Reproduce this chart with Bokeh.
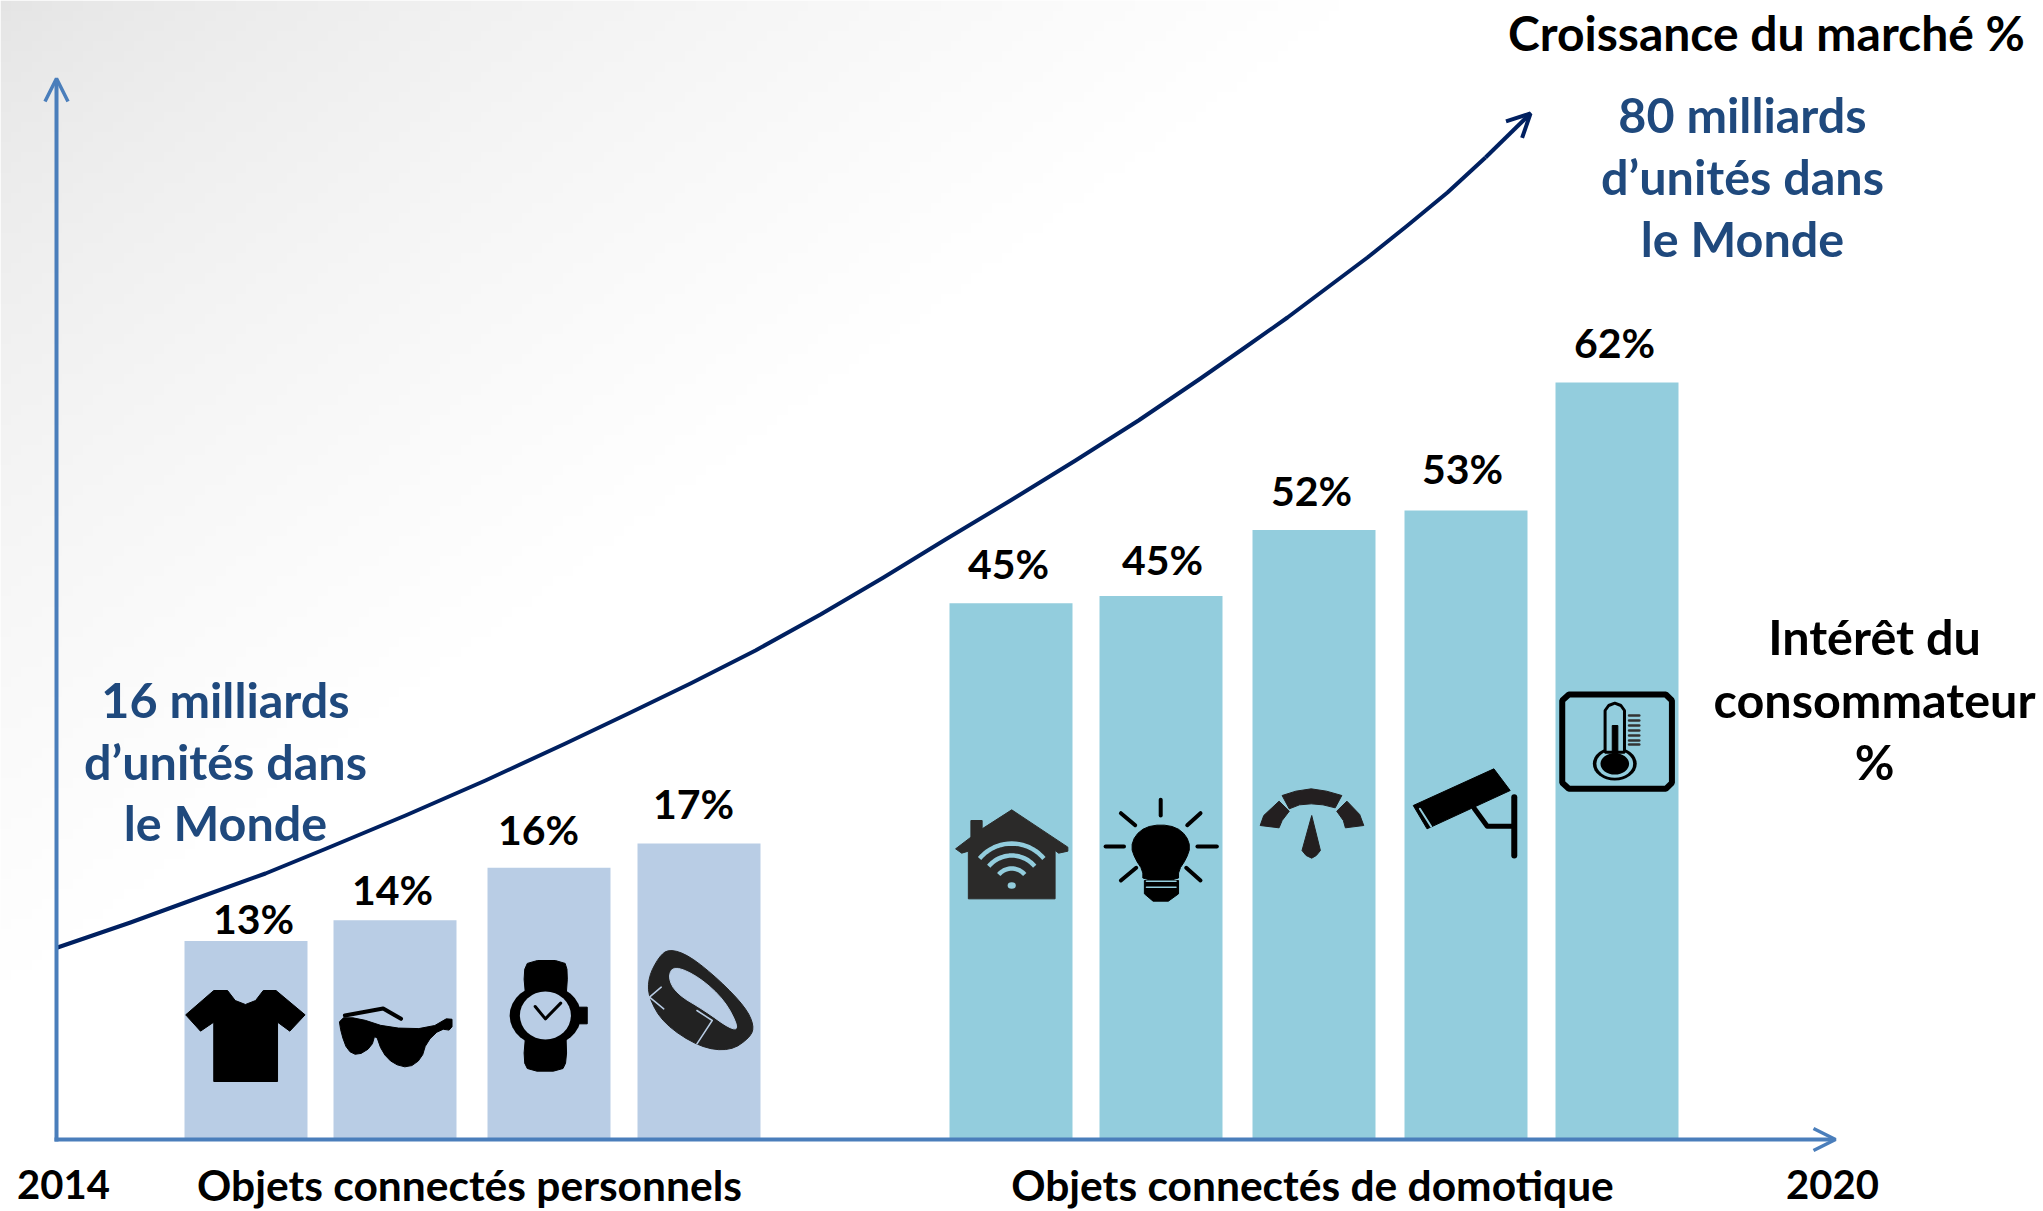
import numpy as np
from bokeh.plotting import figure
from bokeh.models import Range1d, Arrow, OpenHead, ColumnDataSource
from bokeh.core.properties import value
from bokeh.embed import file_html
from bokeh.resources import INLINE

# ---------- data ----------
categories_personal = ["T-shirt", "Lunettes", "Montre", "Bracelet"]
categories_domotique = ["Maison", "Ampoule", "Compteur", "Caméra", "Thermostat"]
bar_height_personal = [16.2, 17.9, 22.2, 24.2]
bar_height_domotique = [43.9, 44.5, 49.9, 51.5, 62.0]
labels_personal = ["13%", "14%", "16%", "17%"]
labels_domotique = ["45%", "45%", "52%", "53%", "62%"]
growth_x = [57, 130, 204, 265, 326, 405, 485, 565, 628, 690, 755, 820, 883, 945, 1010, 1075, 1138, 1200, 1243, 1287, 1327, 1367, 1407, 1447, 1485, 1530]
growth_y = [947, 922, 895, 873, 848, 815, 780, 743, 713, 683, 650, 614, 577, 539, 500, 460, 420, 378, 348, 317, 287, 257, 225, 192, 157, 113]

# ---------- layout (reference pixels) ----------
W, H = 2043, 1211
BASE = 1139
BAR_BASE = 1138
PCT = 756 / 62
BW = 123
lefts_p = [184, 333, 487, 637]
lefts_d = [949, 1099, 1252, 1404, 1555]

p = figure(width=W, height=H, output_backend="svg", toolbar_location=None,
           x_range=Range1d(0, W), y_range=Range1d(H, 0), min_border=0)
p.axis.visible = False
p.grid.visible = False
p.outline_line_color = None
p.background_fill_color = "white"
p.extra_y_ranges = {"pct": Range1d((BAR_BASE - H) / PCT, BAR_BASE / PCT)}

# background gradient
gh, gw = 120, 200
yy, xx = np.mgrid[0:gh, 0:gw]
t = np.clip((xx + 0.5) / gw * W / 1350 + (yy + 0.5) / gh * H / 985, 0, 1)
g = (228 + 27 * t ** 0.7).astype(np.uint32)
img = (255 << 24) | (g << 16) | (g << 8) | g
p.image_rgba(image=[img], x=0, y=0, dw=W, dh=H)

# bars
c1, c2 = "#b9cde5", "#93cddd"
src1 = ColumnDataSource(dict(x=[l + BW / 2 for l in lefts_p], top=bar_height_personal, cat=categories_personal))
src2 = ColumnDataSource(dict(x=[l + BW / 2 for l in lefts_d], top=bar_height_domotique, cat=categories_domotique))
p.vbar(x="x", top="top", bottom=0, width=BW, source=src1, y_range_name="pct", fill_color=c1, line_color=None)
p.vbar(x="x", top="top", bottom=0, width=BW, source=src2, y_range_name="pct", fill_color=c2, line_color=None)

# growth curve
NAVYL = "#002060"
p.line(growth_x[:-1], growth_y[:-1], line_color=NAVYL, line_width=4, line_join="round")
p.add_layout(Arrow(end=OpenHead(size=23, line_color=NAVYL, line_width=4), line_color=NAVYL, line_width=4,
                   x_start=growth_x[-2], y_start=growth_y[-2], x_end=growth_x[-1], y_end=growth_y[-1]))

# axes with arrows
AX = "#4a7ebb"
p.add_layout(Arrow(end=OpenHead(size=23, line_color=AX, line_width=3.5), line_color=AX, line_width=4,
                   x_start=56, y_start=BASE + 2, x_end=56, y_end=78))
p.add_layout(Arrow(end=OpenHead(size=22, line_color=AX, line_width=3.5), line_color=AX, line_width=4,
                   x_start=54, y_start=BASE, x_end=1835, y_end=BASE))

# ---------- icons ----------
def z1(pts): return [a / 1.96 for a, b in pts], [780 + b / 3 for a, b in pts]
def z2(pts): return [900 + a / 1.96 for a, b in pts], [680 + b / 3 for a, b in pts]

def chaikin(pts, n):
    for _ in range(n):
        out = []
        for i, a in enumerate(pts):
            b = pts[(i + 1) % len(pts)]
            out.append((0.75 * a[0] + 0.25 * b[0], 0.75 * a[1] + 0.25 * b[1]))
            out.append((0.25 * a[0] + 0.75 * b[0], 0.25 * a[1] + 0.75 * b[1]))
        pts = out
    return pts

def poly(z, pts, color="black", smooth=0):
    xs, ys = z(chaikin(pts, smooth))
    p.patch(xs, ys, fill_color=color, line_color=color, line_width=1)

def stroke(z, pts, color="black", w=4):
    xs, ys = z(pts)
    p.line(xs, ys, line_color=color, line_width=w, line_cap="round", line_join="round")

def ell(z, cx, cy, rx, ry, color="black"):
    (x,), (y,) = z([(cx, cy)])
    p.ellipse([x], [y], width=2 * rx / 1.96, height=2 * ry / 3, fill_color=color, line_color=None)

# t-shirt
poly(z1, [(445,630),(460,660),(480,672),(500,660),(515,630),(540,630),(597,703),(567,752),(543,725),(543,903),(418,903),(418,725),(392,752),(363,703),(418,630)])
# sunglasses
poly(z1, [(663,712),(700,712),(760,742),(840,745),(885,705),(885,750),(862,745),(835,785),(825,835),(800,862),(770,850),(748,815),(735,758),(727,800),(700,825),(680,810),(668,760)], smooth=1)
stroke(z1, [(675,705),(750,684),(785,715)], w=4)
# watch
poly(z1, [(1030,660),(1025,575),(1035,540),(1105,540),(1112,575),(1108,660)], smooth=1)
poly(z1, [(1030,750),(1108,750),(1110,840),(1100,872),(1035,872),(1025,840)], smooth=1)
ell(z1, 1068, 705, 70, 92)
poly(z1, [(1135,680),(1150,680),(1150,730),(1135,730)])
ell(z1, 1068, 705, 50, 72, c1)
stroke(z1, [(1048,678),(1068,715),(1098,668)], w=3)
# band
poly(z1, [(1310,505),(1350,525),(1410,600),(1460,680),(1477,735),(1470,770),(1430,812),(1370,800),(1300,730),(1270,650),(1270,590),(1290,530)], "#222222", smooth=2)
poly(z1, [(1320,555),(1370,590),(1420,660),(1448,745),(1430,745),(1380,690),(1325,640),(1308,590)], c1, smooth=2)
stroke(z1, [(1295,620),(1272,650),(1300,685)], c1, 1.5)
stroke(z1, [(1365,690),(1395,720),(1365,790)], c1, 1.5)
# house
H_C = "#2b2a29"
poly(z2, [(218,388),(328,500),(328,512),(310,518),(303,510),(303,655),(133,655),(133,512),(120,518),(108,505),(138,470),(138,420),(160,420),(160,445)], H_C)
for R in (42, 30, 17):
    a = np.radians(np.arange(-50, 51, 5))
    hx = 900 + 218 / 1.96 + R * np.sin(a)
    hy = 680 + 615 / 3 - R * np.cos(a)
    p.line(hx, hy, line_color=c2, line_width=4.5)
ell(z2, 218, 615, 8, 10, c2)
# bulb
poly(z2, [(510,432),(540,440),(560,465),(568,500),(560,535),(545,570),(545,600),(475,600),(475,570),(460,535),(452,500),(460,465),(480,440)], smooth=1)
poly(z2, [(478,600),(545,600),(545,640),(525,662),(495,662),(478,640)])
for y in (602, 620):
    stroke(z2, [(482,y),(540,y)], c2, 1.5)
for seg in ([(510,358),(510,405)],[(432,398),(460,434)],[(588,398),(562,434)],[(402,498),(438,498)],[(582,498),(620,498)],[(432,600),(462,562)],[(588,600),(560,562)]):
    stroke(z2, seg, "black", 4)
# gauge
G_C = "#231f20"
poly(z2, [(705,435),(712,405),(742,362),(762,392),(748,420),(742,442)], G_C)
poly(z2, [(748,345),(775,332),(805,325),(835,332),(865,345),(852,382),(828,373),(805,370),(782,373),(762,385)], G_C)
poly(z2, [(855,392),(875,362),(900,402),(908,435),(872,442),(868,420)], G_C)
poly(z2, [(806,405),(823,510),(815,525),(806,533),(795,525),(787,510)], G_C)
# camera
poly(z2, [(1005,375),(1163,265),(1195,330),(1032,445)])
stroke(z2, [(1018,385),(1040,438)], c2, 2)
stroke(z2, [(1203,350),(1203,525)], w=6)
stroke(z2, [(1125,385),(1150,437),(1200,437)], w=5)
# thermostat
xs, ys = z2([(1310,42),(1500,42),(1512,60),(1512,307),(1500,325),(1310,325),(1297,307),(1297,60)])
p.patch(xs, ys, fill_color=None, line_color="black", line_width=6)
ell(z2, 1400, 250, 43, 50)
ell(z2, 1400, 250, 36, 42, c2)
xs, ys = z2([(1381,215),(1381,90),(1388,75),(1400,68),(1412,75),(1419,90),(1419,215)])
p.patch(xs, ys, fill_color=c2, line_color="black", line_width=3)
ell(z2, 1400, 250, 28, 32)
poly(z2, [(1395,135),(1406,135),(1406,230),(1395,230)])
for y in (105,120,135,150,165,180,192):
    stroke(z2, [(1428,y),(1448,y)], "#333333", 2.5)

# ---------- texts ----------
def txt(t, x, y, size, color="black"):
    p.text([x], [y], text=[t], text_font=value("Lato"), text_font_style="bold", text_font_size=value(size),
           text_color=color, text_align="center", text_baseline="middle")

NAVY = "#1f497d"
txt("Croissance du marché %", 1766, 32, "48px")
for t_, y in [("80 milliards", 113), ("d’unités dans", 175), ("le Monde", 237)]:
    txt(t_, 1742, y, "48.5px", NAVY)
for t_, y in [("16 milliards", 698), ("d’unités dans", 760), ("le Monde", 821)]:
    txt(t_, 225, y, "48.5px", NAVY)
for t_, y in [("Intérêt du", 635), ("consommateur", 698), ("%", 760)]:
    txt(t_, 1874, y, "48.5px")
lab_x = [253, 392, 538, 693, 1008, 1162, 1311, 1462, 1614]
lab_y = [918, 889, 829, 803, 563, 559, 490, 468, 342]
for t_, x, y in zip(labels_personal + labels_domotique, lab_x, lab_y):
    txt(t_, x, y, "41px")
for t_, x in [("Objets connectés personnels", 469), ("Objets connectés de domotique", 1312)]:
    txt(t_, x, 1184, "42.5px")
for t_, x in [("2014", 63), ("2020", 1832)]:
    txt(t_, x, 1184, "40px")

open("out.html", "w").write(file_html(p, INLINE))
